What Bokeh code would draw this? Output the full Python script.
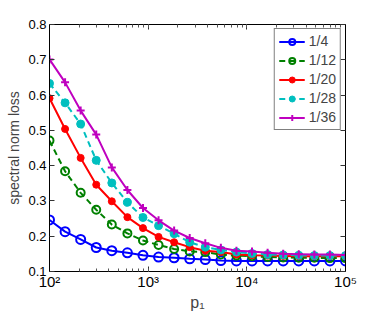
import numpy as np
from bokeh.plotting import figure
from bokeh.models import Range1d, LogAxis, LinearAxis, Legend, FixedTicker, LogTicker
from bokeh.embed import file_html
from bokeh.resources import INLINE

p1 = np.logspace(2, 5, 20)

s_1_4 = [0.246, 0.213, 0.191, 0.168, 0.159, 0.153, 0.146, 0.141, 0.139, 0.136,
         0.134, 0.131, 0.130, 0.130, 0.130, 0.130, 0.130, 0.130, 0.130, 0.130]
s_1_12 = [0.471, 0.384, 0.323, 0.275, 0.233, 0.208, 0.188, 0.175, 0.164, 0.157,
          0.155, 0.148, 0.145, 0.143, 0.141, 0.140, 0.139, 0.139, 0.138, 0.138]
s_1_20 = [0.591, 0.504, 0.422, 0.346, 0.299, 0.254, 0.223, 0.198, 0.183, 0.169,
          0.159, 0.155, 0.148, 0.146, 0.145, 0.144, 0.143, 0.143, 0.143, 0.143]
s_1_28 = [0.633, 0.578, 0.518, 0.415, 0.351, 0.296, 0.253, 0.230, 0.207, 0.183,
          0.169, 0.161, 0.155, 0.151, 0.148, 0.147, 0.146, 0.145, 0.145, 0.145]
s_1_36 = [0.701, 0.636, 0.556, 0.488, 0.395, 0.331, 0.280, 0.245, 0.216, 0.195,
          0.180, 0.167, 0.159, 0.157, 0.153, 0.150, 0.149, 0.148, 0.148, 0.147]

labels = ["1/4", "1/12", "1/20", "1/28", "1/36"]
x_ticks = [100, 1000, 10000, 100000]
x_tick_labels = ["10\u00b2", "10\u00b3", "10\u2074", "10\u2075"]
y_ticks = [0.1, 0.2, 0.3, 0.4, 0.5, 0.6, 0.7, 0.8]

FONT = "Liberation Sans"

p = figure(x_axis_type="log",
           x_range=Range1d(100, 1e5), y_range=Range1d(0.1, 0.8),
           output_backend="svg", toolbar_location=None,
           frame_width=296, frame_height=247,
           min_border_left=49, min_border_right=30, min_border_top=24, min_border_bottom=45)
p.xgrid.visible = False
p.ygrid.visible = False
p.outline_line_color = None
p.background_fill_color = "white"
p.border_fill_color = "white"

def style(ax, labels=True):
    ax.axis_line_color = "black"
    ax.axis_line_width = 1
    ax.major_tick_in = 5
    ax.major_tick_out = 0
    ax.minor_tick_in = 3
    ax.minor_tick_out = 0
    ax.major_tick_line_color = "#333333"
    ax.minor_tick_line_color = "#555555"
    ax.major_label_text_font = FONT
    ax.major_label_text_font_size = "14px"
    ax.major_label_text_color = "black"
    if not labels:
        ax.major_label_text_font_size = "1px"
        ax.major_label_text_alpha = 0
        ax.major_label_standoff = 0

xa = p.xaxis[0]
xa.ticker = LogTicker(desired_num_ticks=4, num_minor_ticks=10)
xa.major_label_overrides = {t: l for t, l in zip(x_ticks, x_tick_labels)}
style(xa)
xa.major_label_text_font_size = "15px"
xa.major_label_standoff = 1
xa.axis_label = "p\u2081"
xa.axis_label_text_font = FONT
xa.axis_label_text_font_size = "16px"
xa.axis_label_text_font_style = "normal"
xa.axis_label_standoff = 1

ya = p.yaxis[0]
ya.ticker = FixedTicker(ticks=y_ticks, minor_ticks=[])
style(ya)
ya.major_label_text_font_size = "13px"
ya.minor_tick_in = 0
ya.major_label_standoff = 3
ya.axis_label = "spectral norm loss"
ya.axis_label_text_font = FONT
ya.axis_label_text_font_size = "14px"
ya.axis_label_text_font_style = "normal"
ya.axis_label_standoff = 3

top = LogAxis(ticker=LogTicker(desired_num_ticks=4, num_minor_ticks=10))
style(top, labels=False)
p.add_layout(top, "above")
right = LinearAxis(ticker=FixedTicker(ticks=y_ticks, minor_ticks=[]))
style(right, labels=False)
right.minor_tick_in = 0
p.add_layout(right, "right")

series = [s_1_4, s_1_12, s_1_20, s_1_28, s_1_36]
colors = ["#0000ff", "#008000", "#ff0000", "#00bfbf", "#bf00bf"]
dashes = ["solid", "6 4", "solid", "6 4", "solid"]
items = []
for s, c, d, lab in zip(series, colors, dashes, labels):
    r1 = p.line(p1, s, line_color=c, line_width=2, line_dash=d)
    if lab == "1/4":
        r2 = p.scatter(p1, s, marker="circle", size=9, line_color=c, line_width=2, fill_color=None)
    elif lab == "1/12":
        r2 = p.scatter(p1, s, marker="circle", size=8, line_color=c, line_width=2, fill_color=None)
    elif lab == "1/20":
        r2 = p.scatter(p1, s, marker="circle", size=7, line_color=c, fill_color=c)
    elif lab == "1/28":
        r2 = p.scatter(p1, s, marker="circle", size=8, line_color=c, fill_color=c)
    else:
        r2 = p.scatter(p1, s, marker="cross", size=8, line_color=c, line_width=2)
    items.append((lab, [r1, r2]))

legend = Legend(items=items, location="top_right")
legend.margin = 4
legend.padding = 4
legend.spacing = 3
legend.glyph_width = 26
legend.glyph_height = 15
legend.label_height = 15
legend.label_standoff = 4
legend.label_text_font = FONT
legend.label_text_font_size = "14px"
legend.border_line_color = "black"
legend.border_line_width = 1
legend.background_fill_alpha = 1
p.add_layout(legend, "center")

open("out.html", "w").write(file_html(p, INLINE))
